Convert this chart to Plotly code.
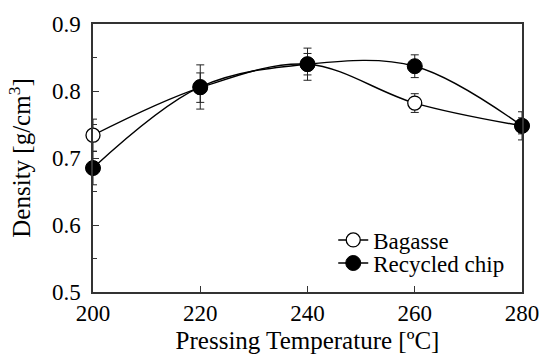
import plotly.graph_objects as go

temps = [200, 220, 240, 260, 280]
bagasse = [0.734, 0.805, 0.840, 0.782, 0.748]
bagasse_err = [0.024, 0.022, 0.016, 0.014, 0.012]
recycled = [0.685, 0.806, 0.840, 0.837, 0.748]
recycled_err = [0.025, 0.033, 0.024, 0.017, 0.021]

font = "Liberation Serif"

fig = go.Figure()
fig.add_trace(go.Scatter(
    x=temps, y=bagasse, name="Bagasse", mode="lines+markers", legend="legend",
    line=dict(color="black", width=1.4, shape="spline", smoothing=1.0),
    marker=dict(symbol="circle", size=14, color="white", line=dict(color="black", width=1.3)),
    error_y=dict(type="data", array=bagasse_err, visible=True, color="#222", thickness=1, width=4),
))
fig.add_trace(go.Scatter(
    x=temps, y=recycled, name="Recycled chip", mode="lines+markers", legend="legend2",
    line=dict(color="black", width=1.4, shape="spline", smoothing=1.0),
    marker=dict(symbol="circle", size=15, color="black", line=dict(color="black", width=1)),
    error_y=dict(type="data", array=recycled_err, visible=True, color="#222", thickness=1, width=4),
))

leg_common = dict(xanchor="left", yanchor="middle", bgcolor="rgba(0,0,0,0)",
                  font=dict(family=font, size=23), itemwidth=30)

fig.update_layout(
    width=542, height=357,
    margin=dict(l=93, r=20, t=24, b=65),
    paper_bgcolor="white", plot_bgcolor="white",
    font=dict(family=font, size=23, color="black"),
    showlegend=True,
    legend=dict(x=0.56, y=0.194, **leg_common),
    legend2=dict(x=0.56, y=0.108, **leg_common),
    xaxis=dict(range=[200, 280], tickvals=[200, 220, 240, 260, 280], automargin=False,
               ticks="inside", ticklen=6, tickcolor="#333", showgrid=False, zeroline=False,
               showline=True, linecolor="#333", linewidth=1.5, mirror=True,
               tickfont=dict(family=font, size=23),
               title=dict(text="Pressing Temperature [ºC]", font=dict(family=font, size=25), standoff=6)),
    yaxis=dict(range=[0.5, 0.9], tickvals=[0.5, 0.6, 0.7, 0.8, 0.9], tickformat=".1f", automargin=False,
               ticks="inside", ticklen=6, tickcolor="#333", showgrid=False, zeroline=False,
               showline=True, linecolor="#333", linewidth=1.5, mirror=True,
               tickfont=dict(family=font, size=23), ticklabelstandoff=6,
               minor=dict(ticks="inside", ticklen=4, dtick=0.05, tickcolor="#333", showgrid=False),
               title=dict(text="Density [g/cm<sup>3</sup>]", font=dict(family=font, size=25), standoff=14)),
)
fig.update_traces(cliponaxis=False)

fig.write_html("out.html")
